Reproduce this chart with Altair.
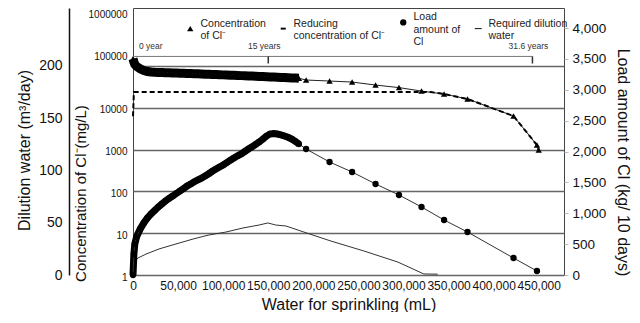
import altair as alt
import pandas as pd

FONT = "Liberation Sans"

# ---------------- data ----------------
# sampling points (water for sprinkling, mL) shared by concentration & load series
water_ml = [0, 1000, 2000, 4000, 8000, 12000, 16000, 20000, 24000, 28000, 32000, 36000,
            40000, 44000, 48000, 52000, 56000, 60000, 64000, 68000, 72000, 76000, 80000,
            84000, 88000, 92000, 96000, 100000, 104000, 108000, 112000, 116000, 120000,
            124000, 128000, 132000, 136000, 140000, 144000, 148000, 152000, 156000, 160000,
            164000, 168000, 172000, 176000, 180000, 184000,
            192000, 218000, 243000, 269000, 295000, 320000, 345000, 371000, 422000, 448000]

# Concentration of Cl- (mg/L), log axis
conc_cl = [150000, 125000, 110000, 98000, 86000, 78000, 74000, 72000, 71000, 70500, 70000, 69500,
           69000, 68500, 68000, 67500, 67000, 66500, 66000, 65500, 65000, 64500, 64000,
           63500, 63000, 62500, 62000, 61500, 61000, 60500, 60000, 59500, 59000,
           58500, 58000, 57500, 57000, 56500, 56000, 55500, 55000, 54500, 54000,
           53500, 53000, 52500, 52000, 51500, 51000,
           46300, 43800, 41400, 35100, 30500, 25200, 21400, 16300, 6370, 1290]
conc_extra_ml = [450000]
conc_extra = [977]

# Load amount of Cl (kg / 10 days), right axis
load_cl = [0, 340, 500, 620, 745, 842, 923, 988, 1045, 1101, 1150, 1198,
           1240, 1279, 1320, 1360, 1400, 1441, 1475, 1510, 1540, 1570, 1603,
           1640, 1680, 1715, 1750, 1781, 1820, 1860, 1895, 1930, 1960,
           2000, 2040, 2075, 2115, 2154, 2200, 2250, 2283, 2290, 2283,
           2270, 2251, 2230, 2202, 2165, 2121,
           2040, 1830, 1668, 1474, 1296, 1101, 891, 696, 275, 65]

# Reducing concentration of Cl- (mg/L)
reduce_ml = [0, 1000, 330000, 345000, 371000, 422000, 448000, 450000]
reduce_cl = [6300, 23900, 23900, 21400, 16300, 6370, 1290, 977]

# Required dilution water (m3/day)
dil_ml = [0, 5500, 14400, 28800, 47700, 66500, 84200, 103000, 122000, 139700, 149600,
          158500, 169600, 189500, 219500, 256000, 293700, 322500, 338000]
dil_val = [11.0, 16.3, 20.0, 24.9, 29.7, 34.4, 38.3, 41.1, 45.0, 47.8, 49.8,
           47.8, 46.9, 41.1, 32.5, 23.0, 12.4, 1.0, 0.8]

# time annotations
year_ml = [0, 150000, 443000]
year_labels = ["0 year", "15 years", "31.6 years"]

# legend entries ("|" = line break)
series_names = ["Concentration|of Cl⁻", "Reducing|concentration of Cl⁻",
                "Load|amount of|Cl", "Required dilution|water"]

x_ticks = [0, 50000, 100000, 150000, 200000, 250000, 300000, 350000, 400000, 450000]
log_ticks = [1, 10, 100, 1000, 10000, 100000, 1000000]
dil_ticks = [0, 50, 100, 150, 200]
load_ticks = [0, 500, 1000, 1500, 2000, 2500, 3000, 3500, 4000]

# ---------------- tables ----------------
df_conc = pd.DataFrame({"ml": water_ml + conc_extra_ml, "v": conc_cl + conc_extra,
                        "series": series_names[0]})
df_load = pd.DataFrame({"ml": water_ml, "v": load_cl})
df_red = pd.DataFrame({"ml": reduce_ml, "v": reduce_cl})
df_dil = pd.DataFrame({"ml": dil_ml, "v": dil_val})
df_year = pd.DataFrame({"ml": year_ml, "label": year_labels})
df_bar = pd.DataFrame({"ml": [year_ml[0]], "ml2": [year_ml[-1]]})

# ---------------- scales / axes ----------------
xs = alt.Scale(domain=[0, 478000], nice=False, zero=False)
x_axis = alt.Axis(values=x_ticks, labelExpr="format(datum.value, ',')",
                  title="Water for sprinkling (mL)", labelOverlap=False, labelFlush=False,
                  ticks=False, domain=False, grid=False, labelFontSize=12,
                  titleFontSize=16, labelPadding=5, titlePadding=5,
                  labelColor="#111", titleColor="#111", titleFontWeight="normal",
                  labelFont=FONT, titleFont=FONT)

log_scale = alt.Scale(type="log", domain=[1, 2450000], nice=False)
log_axis = alt.Axis(values=log_ticks, labelExpr="format(datum.value, 'd')", orient="left",
                    ticks=False, domain=False,
                    grid=True, gridColor="#666", gridWidth=1.3,
                    gridOpacity={"condition": {"test": "datum.value >= 1000000", "value": 0}, "value": 1},
                    labelOffset={"condition": {"test": "datum.value >= 100000", "value": -10}, "value": 2},
                    labelFontSize=10, labelPadding=6, labelColor="#111", labelFont=FONT,
                    title="Concentration of Cl⁻(mg/L)", titleFontSize=15, titleFont=FONT,
                    titleFontWeight="normal", titleColor="#111", titlePadding=0, titleY=185)

dil_scale = alt.Scale(domain=[0, 255.5], nice=False)
dil_axis = alt.Axis(values=dil_ticks, orient="left", offset=64, ticks=False, grid=False,
                    domainColor="#111", domainWidth=1.5, labelFontSize=14, labelPadding=7,
                    labelColor="#111", labelFont=FONT,
                    title="Dilution water (m³/day)", titleFontSize=16, titleFont=FONT,
                    titleFontWeight="normal", titleColor="#111", titlePadding=6, titleY=142)

load_scale = alt.Scale(domain=[0, 4324], nice=False)
load_axis = alt.Axis(values=load_ticks, labelExpr="format(datum.value, ',')", orient="right",
                     ticks=True, tickSize=4,
                     tickColor="#bbb", domain=False, grid=False, labelFontSize=13.5,
                     labelPadding=4, labelColor="#111", labelFont=FONT,
                     title="Load amount of Cl (kg/ 10 days)", titleFontSize=16, titleFont=FONT,
                     titleFontWeight="normal", titleColor="#111", titlePadding=9, titleY=154)


def X():
    return alt.X("ml:Q", scale=xs, axis=x_axis)


def YL(field="v:Q"):
    return alt.Y(field, scale=log_scale, axis=log_axis)


def YR():
    return alt.Y("v:Q", scale=load_scale, axis=load_axis)


dense = "datum.ml <= 184000"

# ---------------- layers ----------------
dil_line = alt.Chart(df_dil).mark_line(color="#333", strokeWidth=1).encode(
    x=X(), y=alt.Y("v:Q", scale=dil_scale, axis=dil_axis))

conc_line = alt.Chart(df_conc).mark_line(color="#222", strokeWidth=1).encode(x=X(), y=YL())
conc_band = alt.Chart(df_conc).mark_line(color="black", strokeWidth=9).encode(
    x=X(), y=YL()).transform_filter(dense)
conc_pts = alt.Chart(df_conc).mark_point(filled=True, color="black", size=40, opacity=1).encode(
    x=X(), y=YL(),
    shape=alt.Shape("series:N",
                    scale=alt.Scale(domain=series_names,
                                    range=["triangle-up", "M-0.8,-0.3H0.8V0.3H-0.8Z",
                                           "circle", "M-1.1,-0.15H1.1V0.15H-1.1Z"]),
                    legend=alt.Legend(orient="none", legendX=52, legendY=9, direction="horizontal",
                                      title=None, labelExpr="split(datum.label, '|')",
                                      labelBaseline="bottom",
                                      labelFontSize=10.5, labelFont=FONT, labelColor="#222",
                                      labelLimit=300, symbolSize=40, symbolFillColor="black",
                                      symbolStrokeColor="black", symbolStrokeWidth=0.5,
                                      columnPadding=12, labelOffset=5, padding=0)))
red_line = alt.Chart(df_red).mark_line(color="black", strokeWidth=2, strokeDash=[5, 3]).encode(
    x=X(), y=YL())

bar = alt.Chart(df_bar).mark_rule(color="#777", strokeWidth=1).encode(
    x=X(), x2="ml2:Q", y=alt.datum(170000, scale=log_scale, axis=log_axis))
ticks = alt.Chart(df_year.iloc[1:]).mark_rule(color="#333", strokeWidth=1.5).encode(
    x=X(), y=alt.datum(170000, scale=log_scale, axis=log_axis), y2=alt.datum(115000))
ytext0 = alt.Chart(df_year.iloc[:1]).mark_text(align="left", dx=6, fontSize=8.5, font=FONT,
                                               color="#333").encode(
    x=X(), y=alt.datum(300000, scale=log_scale, axis=log_axis), text="label:N")
ytext = alt.Chart(df_year.iloc[1:]).mark_text(align="center", dx=-4, fontSize=8.5, font=FONT,
                                              color="#333").encode(
    x=X(), y=alt.datum(300000, scale=log_scale, axis=log_axis), text="label:N")

log_group = alt.layer(conc_band, conc_line, red_line, conc_pts, bar, ticks, ytext0, ytext)

load_line = alt.Chart(df_load).mark_line(color="#333", strokeWidth=1).encode(x=X(), y=YR())
load_band = alt.Chart(df_load).mark_line(color="black", strokeWidth=7).encode(
    x=X(), y=YR()).transform_filter(dense)
load_pts = alt.Chart(df_load).mark_circle(color="black", size=40, opacity=1).encode(x=X(), y=YR())
load_group = alt.layer(load_band, load_line, load_pts)

chart = alt.layer(dil_line, log_group, load_group).resolve_scale(y="independent").properties(
    width=431, height=267, padding={"left": 8, "top": 0, "right": 0, "bottom": 0},
    background="white"
).configure_view(stroke="#444", strokeWidth=1)

chart.save("out.html", embed_options={"renderer": "svg", "actions": False})
